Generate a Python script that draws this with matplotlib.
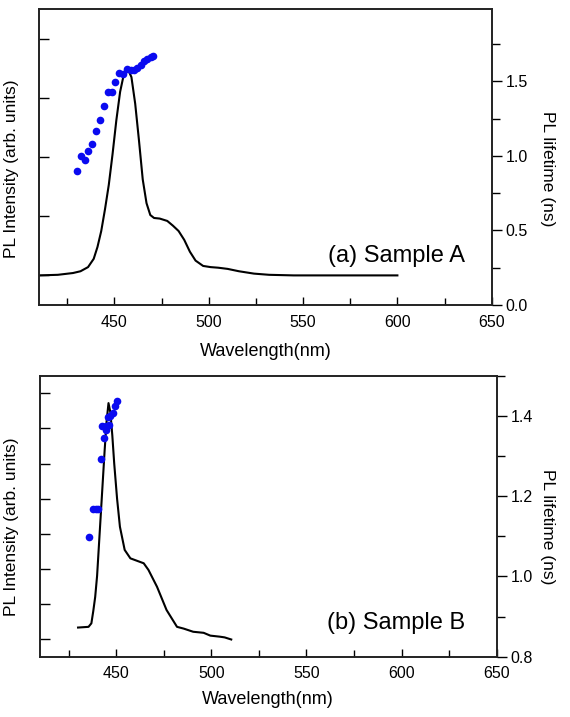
import matplotlib
matplotlib.use('Agg')
import matplotlib.pyplot as plt
from matplotlib.ticker import MultipleLocator, FixedLocator

plt.rcParams['font.family'] = ['Liberation Sans', 'DejaVu Sans']

# sample A: PL spectrum (arb. units) and lifetime (ns)
wl_a = [410, 420, 428, 432, 436, 439, 441, 443, 445, 447, 449, 451, 453, 455, 457,
        459, 461, 463, 465, 467, 469, 471, 474, 478, 481, 484, 487, 490, 493, 497,
        501, 505, 510, 516, 524, 532, 545, 570, 600]
pl_a = [0.50, 0.51, 0.54, 0.57, 0.64, 0.78, 0.98, 1.25, 1.62, 2.03, 2.55, 3.12, 3.60, 3.90, 3.99,
        3.85, 3.40, 2.78, 2.12, 1.72, 1.52, 1.47, 1.46, 1.42, 1.34, 1.25, 1.10, 0.90, 0.75, 0.66,
        0.64, 0.63, 0.61, 0.57, 0.53, 0.51, 0.50, 0.50, 0.50]
tau_wl_a = [430.4, 432.5, 434.2, 436.2, 438.3, 440.4, 442.3, 444.3, 446.6, 448.5, 450.3,
            452.4, 454.5, 456.9, 458.6, 460.4, 462.2, 463.9, 465.7, 467.5, 469.2, 470.7]
tau_a = [0.897, 0.997, 0.975, 1.031, 1.082, 1.165, 1.243, 1.332, 1.426, 1.426, 1.497,
         1.553, 1.546, 1.582, 1.573, 1.578, 1.591, 1.611, 1.633, 1.649, 1.660, 1.667]

# sample B
wl_b = [430, 435.5, 437, 438, 439, 440, 441, 442, 443, 444, 445, 446, 447, 448, 449,
        450.5, 452, 454.5, 457.5, 461, 464.5, 467, 471.5, 476.5, 482, 485.5, 490.5,
        496, 499.5, 504.5, 507, 510.5]
pl_b = [0.83, 0.85, 0.95, 1.3, 1.7, 2.3, 3.2, 4.1, 5.0, 5.9, 6.7, 7.22, 6.95, 6.3, 5.5,
        4.5, 3.7, 3.04, 2.80, 2.73, 2.66, 2.47, 1.99, 1.33, 0.85, 0.80, 0.71,
        0.68, 0.60, 0.57, 0.55, 0.49]
tau_wl_b = [435.7, 438.0, 439.3, 440.4, 441.8, 443.5, 442.7, 444.9, 446.3, 444.9,
            445.6, 447.0, 448.6, 449.6, 450.7]
tau_b = [1.097, 1.167, 1.167, 1.167, 1.293, 1.345, 1.375, 1.375, 1.377, 1.365,
         1.398, 1.400, 1.408, 1.425, 1.437]

xticks = [450, 500, 550, 600, 650]

fig = plt.figure(figsize=(5.7, 7.17), dpi=100)


def panel(rect, wl, pl, twl, tau, pl_max, tau_lim, tau_major, tau_minor, tag, tag_xy):
    ax = fig.add_axes(rect)
    ax.plot(wl, pl, color='black', lw=1.5)
    ax.set_xlim(410, 650)
    ax.set_ylim(0, pl_max)
    ax.xaxis.set_major_locator(FixedLocator(xticks))
    ax.xaxis.set_minor_locator(MultipleLocator(25))
    ax.yaxis.set_major_locator(FixedLocator([k + 0.5 for k in range(int(pl_max))]))
    ax.set_yticklabels([])
    ax.tick_params(axis='x', direction='in', length=6, width=1, labelsize=11.5, pad=7)
    ax.tick_params(axis='x', which='minor', direction='in', length=5, width=1)
    ax.tick_params(axis='y', direction='in', length=7, width=1)
    ax.text(tag_xy[0], tag_xy[1], tag, transform=ax.transAxes, ha='right',
            va='baseline', fontsize=17)

    ax2 = ax.twinx()
    ax2.plot(twl, tau, 'o', color='#0a0af0', ms=5.5, mec='none')
    ax2.set_ylim(*tau_lim)
    ax2.yaxis.set_major_locator(MultipleLocator(tau_major))
    ax2.yaxis.set_minor_locator(MultipleLocator(tau_minor))
    ax2.tick_params(axis='y', direction='out', length=7, width=1, labelsize=11.5, pad=3)
    ax2.tick_params(axis='y', which='minor', direction='out', length=6, width=1)
    for a in (ax, ax2):
        for s in a.spines.values():
            s.set_linewidth(1.2)
            s.set_color('#222222')
    return ax, ax2


panel([39 / 570, 1 - 305 / 717, (491.7 - 39) / 570, 296 / 717],
      wl_a, pl_a, tau_wl_a, tau_a, 5, (0, 1.985), 0.5, 0.25,
      '(a) Sample A', (0.941, 0.146))
panel([40 / 570, 1 - 656.7 / 717, (496.7 - 40) / 570, 281 / 717],
      wl_b, pl_b, tau_wl_b, tau_b, 8, (0.8, 1.5), 0.2, 0.1,
      '(b) Sample B', (0.93, 0.0975))

# axis titles placed in pixel positions
for yc in (169, 527):
    fig.text(12 / 570, 1 - yc / 717, 'PL Intensity (arb. units)', rotation=90,
             ha='center', va='center', fontsize=12.5)
    fig.text(547 / 570, 1 - yc / 717, 'PL lifetime (ns)', rotation=270,
             ha='center', va='center', fontsize=12.5)
fig.text(266 / 570, 1 - 352 / 717, 'Wavelength(nm)', ha='center', va='center', fontsize=13)
fig.text(268 / 570, 1 - 700 / 717, 'Wavelength(nm)', ha='center', va='center', fontsize=13)

fig.savefig('out.png', dpi=100)
